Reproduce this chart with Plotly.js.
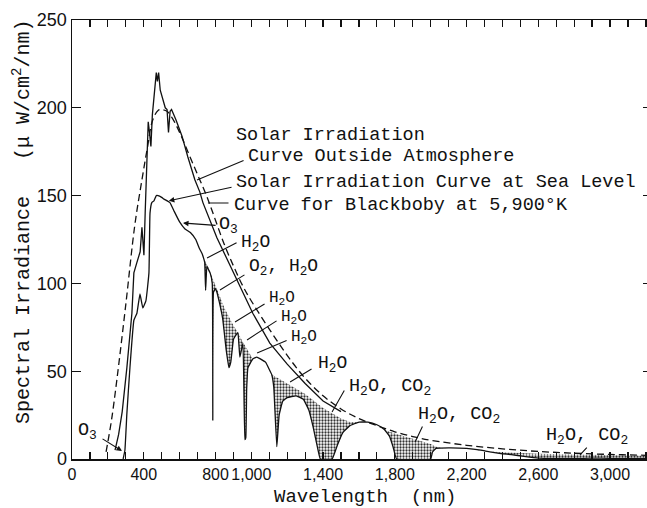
<!DOCTYPE html>
<html>
<head>
<meta charset="utf-8">
<script src="https://cdn.plot.ly/plotly-3.0.1.min.js"></script>
<style>
html,body{margin:0;padding:0;overflow:hidden;background:#fff;}
#chart{width:652px;height:508px;}
</style>
</head>
<body>
<div id="chart"></div>
<script>
// Blackbody 5,900 K (dashed)
const bbWl  = [190,220,250,300,350,390,420,450,480,500,530,560,600,650,700,750,800,850,900,950,1000,1100,1200,1300,1400,1500,1600,1700,1800,1900,2000,2200,2400,2600,2800,3000,3200,3300];
const bbVal = [4,22,45,88,133,159,177,193,198.5,199,198,194,186,174,162,150,136,122,110,99,90,74,59,46,36,28.5,23,19,15.5,12.8,10.7,7.8,5.8,4.3,3.3,2.6,2.1,1.9];

// Solar irradiation outside atmosphere (solid)
const extWl  = [240,260,280,306,334,345,362,380,390,396,401,408,414,420,425,432,440,448,460,470,476,483,492,505,520,530,538,547,555,580,613,646,685,713,730,808,919,1008,1103,1200,1300,1400,1500];
const extVal = [5,14,27,52,83,106,112,118,132,122,116,140,160,185,192,186,178,196,212,220,215,220,210,205,200,199,186,198,199,193,184,172,159,152,146,126,102,83,66,54,43,33,27];

// Solar irradiation at sea level (solid)
const seaWl  = [285,295,306,323,345,362,379,395,412,429,435,445,457,470,480,500,513,546,570,600,630,660,690,710,725,735,740,745,752,760,770,782,785,789,800,808,820,840,860,875,885,900,910,925,936,953,964,969,974,981,1008,1030,1050,1080,1100,1114,1125,1142,1155,1175,1200,1250,1290,1320,1345,1370,1385,1450,1480,1510,1550,1600,1650,1700,1740,1770,1790,1810,2000,2010,2030,2100,2200,2280,2330,2400,2450,2520,2600,2700,2800,2900,3000,3200,3300];
const seaVal = [0,5,26,52,79,83,94,86,90,106,140,146,147,150,150,149,148,146,141,135,131,129,125,120,117,114,112,96,110,108,106,100,22,95,97,95,90,80,62,52,55,68,70,72,58,66,11,12,40,52,57,58,57,55,51,48,41,7,25,33,35,36,34,28,18,6,0,0,8,15,19,21,21,19.5,17,13,7,0,0,4,6,6.3,6,5,4,3,2.5,1.5,0.5,0.3,0.3,0.5,0.4,0.3,0.3];

// Upper edge of the absorbed (stippled) region
const absWl  = [725,740,760,780,800,820,850,880,900,925,950,980,1008,1030,1050,1080,1100,1114,1150,1200,1250,1300,1350,1400,1450,1500,1550,1580,1600,1650,1700,1740,1770,1800,1850,1900,1950,2000,2030,2060,2100,2200,2280,2330,2400,2450,2520,2600,2800,3000,3200,3300];
const absVal = [117,113,109,104,99,93,86,80,76,72,67,62,57,58,57,55,51,48,46,43,40,37,33,29,26,23,21,20.8,21,21,19.5,17,15.5,14.5,13,11.5,10,8.5,7,6.3,6.3,6,5,4.3,3.8,3.5,3.2,3,2.6,2.2,1.8,1.7];

// Axis ticks
const xTickVals = [0,400,800,1000,1400,1800,2200,2600,3000];
const xTickText = ['0','400','800','1,000','1,400','1,800','2,200','2,600','3,000'];
const yTickVals = [0,50,100,150,200,250];

const baseWl = [], baseVal = [];
seaWl.forEach((w,i)=>{ if (w >= absWl[0]) { baseWl.push(w); baseVal.push(seaVal[i]); } });

const LW = 1.3;
const traces = [
  {x: baseWl, y: baseVal, mode:'lines', line:{width:0, color:'rgba(0,0,0,0)'}, hoverinfo:'skip', showlegend:false},
  {x: absWl, y: absVal, mode:'lines', line:{width:0, color:'rgba(0,0,0,0)'}, fill:'tonexty',
   fillcolor:'rgba(255,255,255,0)',
   fillpattern:{shape:'.', size:3, solidity:0.45, fgcolor:'#333', bgcolor:'rgba(255,255,255,0)'},
   hoverinfo:'skip', showlegend:false},
  {x: seaWl, y: seaVal, mode:'lines', line:{width:LW, color:'#111', shape:'spline', smoothing:0.3}, showlegend:false},
  {x: extWl, y: extVal, mode:'lines', line:{width:LW, color:'#111'}, showlegend:false},
  {x: bbWl, y: bbVal, mode:'lines', line:{width:LW, color:'#111', dash:'7px,4px', shape:'spline'}, showlegend:false}
];

const mono = {family:'Liberation Mono, Courier New, monospace', size:18.5, color:'#111'};
function label(x, y, text, size){
  return {x:x, y:y, xref:'x', yref:'y', text:text, showarrow:false, xanchor:'left', yanchor:'middle',
          borderpad:0, font: Object.assign({}, mono, size ? {size:size} : {})};
}
function pointer(hx, hy, tx, ty, head){
  return {x:hx, y:hy, ax:tx, ay:ty, xref:'x', yref:'y', axref:'x', ayref:'y', text:'', showarrow:true,
          arrowhead: head ? 2 : 0, arrowsize:1, arrowwidth:1.1, arrowcolor:'#111', standoff:0, startstandoff:0};
}
const H2O = 'H<sub>2</sub>O';
const annotations = [
  label(909,184.5,'Solar Irradiation'),
  label(976,172.5,'Curve Outside Atmosphere'),
  label(909,157.7,'Solar Irradiation Curve at Sea Level'),
  label(898,144.6,'Curve for Blackboby at 5,900°K'),
  pointer(697,158.9,965,170.3,false),
  pointer(540,147,898,154.9,true),
  pointer(758,145.8,881,145.8,false),
  label(814,132.7,'O<sub>3</sub>'),
  pointer(619,134.4,809,133,true),
  label(937,123,H2O, 18),
  pointer(753,114.5,926,123.6,false),
  label(982,108.8,'O<sub>2</sub>, '+H2O, 18),
  pointer(825,96.2,970,105.4,false),
  label(1093,91.3,H2O, 16),
  pointer(909,78,1082,88.8,false),
  label(1160,80.3,H2O, 16),
  pointer(976,67.8,1149,79.2,false),
  label(1216,69.2,H2O, 16),
  pointer(1032,60.4,1205,67.8,false),
  label(1366,54.1,H2O, 18),
  pointer(1216,43.8,1344,51.8,false),
  label(1539,41,H2O+', CO<sub>2</sub>'),
  pointer(1450,26.8,1523,39.9,false),
  label(1924,24.5,H2O+', CO<sub>2</sub>'),
  pointer(1913,9.7,1958,19.4,false),
  label(2638,13.1,H2O+', CO<sub>2</sub>'),
  pointer(2833,2.3,2878,7.4,false),
  label(28,15.4,'O<sub>3</sub>'),
  pointer(279,4.6,162,12,true),
  {xref:'paper', yref:'paper', x:0.505, y:-0.0866, xanchor:'center', yanchor:'middle', showarrow:false,
   text:'Wavelength\u00a0\u00a0(nm)', font:{family:mono.family, size:19, color:'#111'}},
  {xref:'paper', yref:'paper', x:-0.0862, y:0.54, xanchor:'center', yanchor:'middle', showarrow:false, textangle:-90,
   text:'Spectral Irradiance\u00a0\u00a0\u00a0(\u03bc W/cm<sup>2</sup>/nm)', font:{family:mono.family, size:20, color:'#111'}}
];

const sansFam = 'Liberation Sans Narrow, Arial Narrow, Liberation Sans, sans-serif';
const layout = {
  width:652, height:508,
  margin:{l:72, r:0, t:20, b:49},
  paper_bgcolor:'#fff', plot_bgcolor:'#fff',
  showlegend:false,
  xaxis:{range:[0,3234], tickmode:'array', tickvals:xTickVals, ticktext:xTickText, ticks:'inside', ticklen:7, tickwidth:1.2,
         tickangle:0, tickcolor:'#111', showline:true, linecolor:'#111', linewidth:1.5, mirror:'ticks', showgrid:false, zeroline:false,
         tickfont:{family:sansFam, size:16, color:'#111'},
         minor:{dtick:100, tick0:0, ticks:'inside', ticklen:7, tickwidth:1.2, tickcolor:'#111', showgrid:false}},
  yaxis:{range:[0,250], tickmode:'array', tickvals:yTickVals, ticks:'inside', ticklen:9, tickwidth:1.2, tickcolor:'#111',
         showline:true, linecolor:'#111', linewidth:1.5, mirror:'ticks', showgrid:false, zeroline:false,
         tickfont:{family:sansFam, size:18, color:'#111'}},
  annotations:annotations
};
Plotly.newPlot('chart', traces, layout, {displayModeBar:false, staticPlot:true});
</script>
</body>
</html>
